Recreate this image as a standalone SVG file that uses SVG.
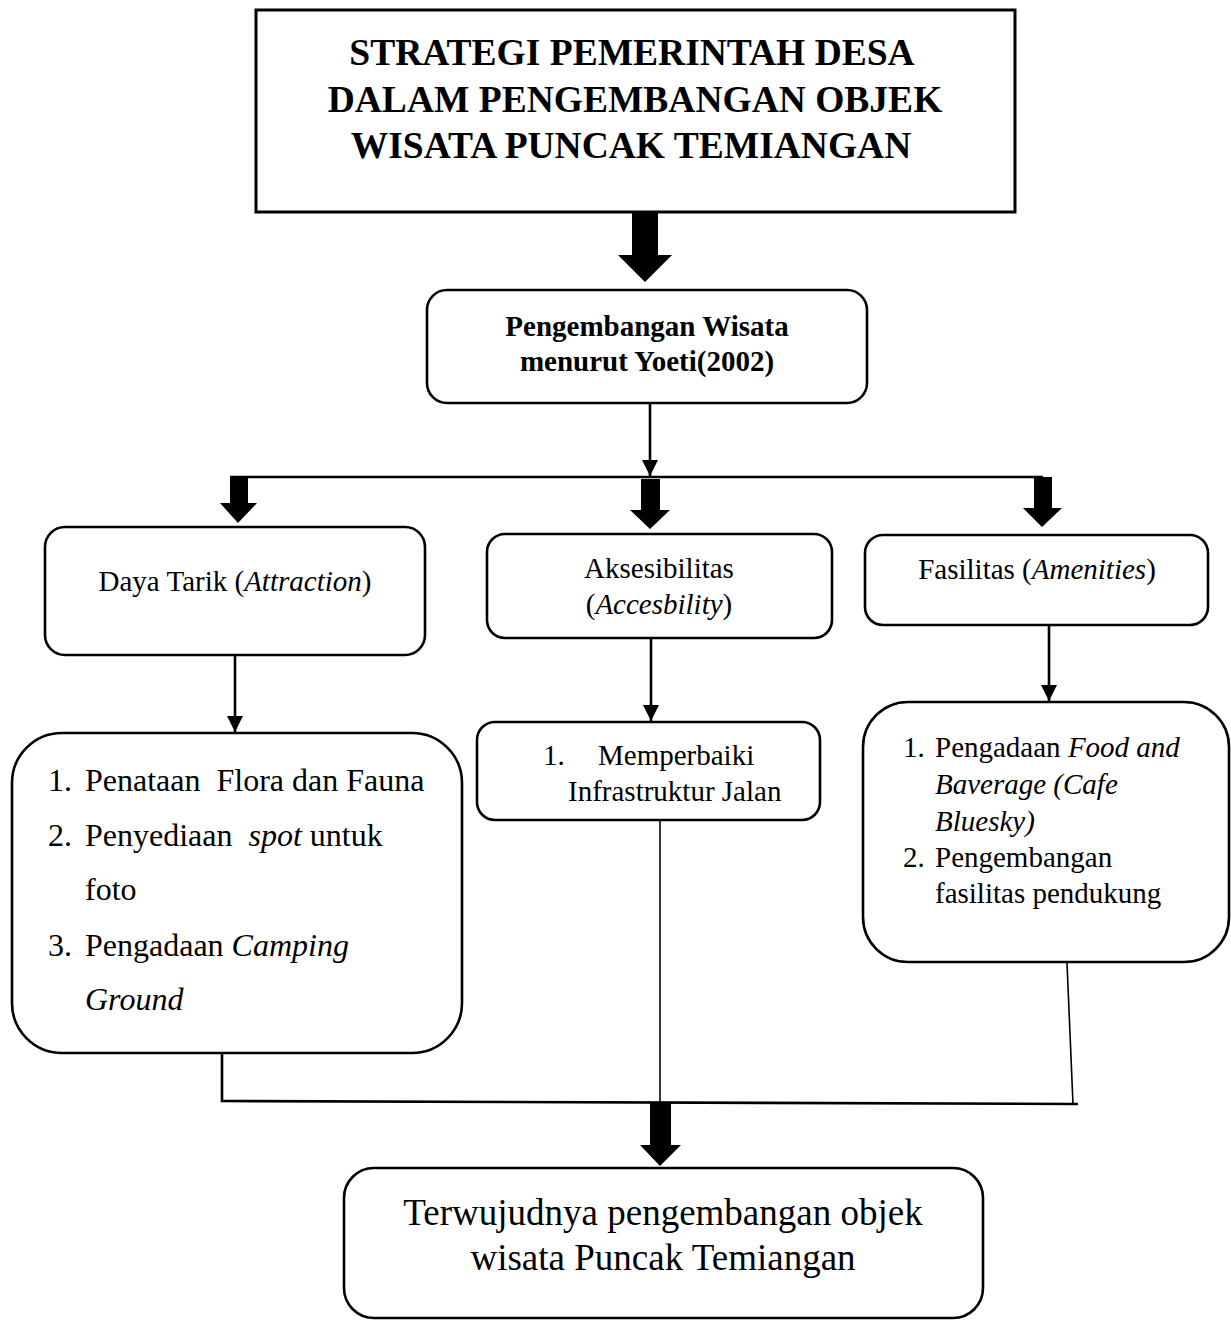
<svg xmlns="http://www.w3.org/2000/svg" width="1231" height="1322" viewBox="0 0 1231 1322">
<style>
  text { font-family: "Liberation Serif", "Times New Roman", serif; fill: #000; }
  .box { fill: #fff; stroke: #000; stroke-width: 2.6; }
  .title { font-size: 37.5px; font-weight: bold; text-anchor: middle; }
  .b2 { font-size: 29px; font-weight: bold; text-anchor: middle; }
  .t29 { font-size: 29px; }
  .c { text-anchor: middle; }
  .t32 { font-size: 32px; }
  .t37 { font-size: 37px; text-anchor: middle; }
  .i { font-style: italic; }
  .line { fill: none; stroke: #000; stroke-width: 2.6; }
  .thin { fill: none; stroke: #000; stroke-width: 1.6; }
  .thick { fill: #000; stroke: none; }
</style>
<defs>
  <marker id="ah" markerUnits="userSpaceOnUse" markerWidth="18" markerHeight="16" refX="16" refY="8" orient="auto">
    <path d="M0,0 L16,8 L0,16 Z" fill="#000"/>
  </marker>
</defs>

<g id="connectors">
  <polygon class="thick" points="632,212 658,212 658,255 672,255 645,282 618,255 632,255"/>
  <line class="line" x1="650" y1="403" x2="650" y2="476" marker-end="url(#ah)"/>
  <line class="line" x1="230" y1="477" x2="1043" y2="477"/>
  <polygon class="thick" points="230,476 248,476 248,503 257,503 238,523 220,503 230,503"/>
  <polygon class="thick" points="641,479 660,479 660,510 670,510 650,529 630,510 641,510"/>
  <polygon class="thick" points="1034,477 1052,477 1052,508 1062,508 1042,527 1023,508 1034,508"/>
  <line class="line" x1="235" y1="655" x2="235" y2="732" marker-end="url(#ah)"/>
  <line class="line" x1="651" y1="638" x2="651" y2="721" marker-end="url(#ah)"/>
  <line class="line" x1="1049" y1="625" x2="1049" y2="701" marker-end="url(#ah)"/>
  <polyline class="line" points="222,1053 222,1101 1078,1104"/>
  <line class="thin" x1="660" y1="820" x2="660" y2="1102"/>
  <line class="thin" x1="1067" y1="963" x2="1073" y2="1104"/>
  <polygon class="thick" points="650,1102 671,1102 671,1145 681,1145 660,1166 640,1145 650,1145"/>
</g>

<g id="title">
  <rect x="256" y="10" width="759" height="202" fill="#fff" stroke="#000" stroke-width="3"/>
  <text class="title" x="632" y="65">STRATEGI PEMERINTAH DESA</text>
  <text class="title" x="635" y="112">DALAM PENGEMBANGAN OBJEK</text>
  <text class="title" x="631" y="158">WISATA PUNCAK TEMIANGAN</text>
</g>

<g id="pengembangan">
  <rect class="box" x="427" y="290" width="440" height="113" rx="20"/>
  <text class="b2" x="647" y="336">Pengembangan Wisata</text>
  <text class="b2" x="647" y="371">menurut Yoeti(2002)</text>
</g>

<g id="daya-tarik">
  <rect class="box" x="45" y="527" width="380" height="128" rx="20"/>
  <text class="t29 c" x="235" y="591">Daya Tarik (<tspan class="i">Attraction</tspan>)</text>
</g>

<g id="aksesibilitas">
  <rect class="box" x="487" y="534" width="345" height="104" rx="18"/>
  <text class="t29 c" x="659" y="578">Aksesibilitas</text>
  <text class="t29 c" x="659" y="614">(<tspan class="i">Accesbility</tspan>)</text>
</g>

<g id="fasilitas">
  <rect class="box" x="865" y="535" width="343" height="90" rx="18"/>
  <text class="t29 c" x="1037" y="579">Fasilitas (<tspan class="i">Amenities</tspan>)</text>
</g>

<g id="list-daya-tarik">
  <rect class="box" x="12" y="733" width="450" height="320" rx="50"/>
  <text class="t32" x="48" y="791">1.</text>
  <text class="t32" x="85" y="791" xml:space="preserve">Penataan  Flora dan Fauna</text>
  <text class="t32" x="48" y="846">2.</text>
  <text class="t32" x="85" y="846" xml:space="preserve">Penyediaan  <tspan class="i">spot</tspan> untuk</text>
  <text class="t32" x="85" y="900">foto</text>
  <text class="t32" x="48" y="956">3.</text>
  <text class="t32" x="85" y="956">Pengadaan <tspan class="i">Camping</tspan></text>
  <text class="t32 i" x="85" y="1010">Ground</text>
</g>

<g id="list-aksesibilitas">
  <rect class="box" x="477" y="722" width="343" height="98" rx="18"/>
  <text class="t29" x="543" y="765">1.</text>
  <text class="t29" x="598" y="765">Memperbaiki</text>
  <text class="t29" x="568" y="801">Infrastruktur Jalan</text>
</g>

<g id="list-fasilitas">
  <rect class="box" x="863" y="702" width="366" height="260" rx="45"/>
  <text class="t29" x="903" y="757">1.</text>
  <text class="t29" x="935" y="757">Pengadaan <tspan class="i">Food and</tspan></text>
  <text class="t29 i" x="935" y="794">Baverage (Cafe</text>
  <text class="t29 i" x="935" y="831">Bluesky)</text>
  <text class="t29" x="903" y="867">2.</text>
  <text class="t29" x="935" y="867">Pengembangan</text>
  <text class="t29" x="935" y="903">fasilitas pendukung</text>
</g>

<g id="hasil">
  <rect class="box" x="344" y="1168" width="639" height="150" rx="30"/>
  <text class="t37" x="663" y="1225">Terwujudnya pengembangan objek</text>
  <text class="t37" x="663" y="1270">wisata Puncak Temiangan</text>
</g>
</svg>
